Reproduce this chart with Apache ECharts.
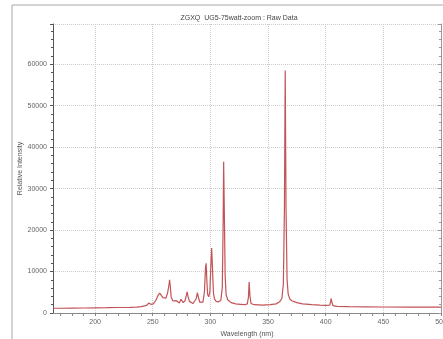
<!DOCTYPE html>
<html>
<head>
<meta charset="utf-8">
<script src="https://cdn.jsdelivr.net/npm/echarts@6/dist/echarts.min.js"></script>
<style>
  html, body { margin: 0; padding: 0; background: #fff; }
  #chart { width: 443px; height: 339px; }
</style>
</head>
<body>
<div id="chart"></div>
<script>
// spectrum (nm, counts)
const wavelengths = [
  163.5, 170, 180, 190, 200, 210, 220, 230, 236, 240, 243, 245, 246.5, 247.3, 248.3, 249.3,
  250.5, 252, 253, 254.5, 256, 257.5, 258.8, 260, 261.5, 263, 264.2, 264.6, 265.2, 266,
  267.5, 269, 270.3, 271.5, 273, 274.5, 275.5, 276.5, 278, 279.2, 279.8, 280.6, 281.8, 283,
  285, 286.5, 287.8, 288.7, 289.6, 290.8, 292, 293.5, 294.8, 295.8, 296.3, 296.9, 297.6,
  298.5, 299.5, 300.5, 301.1, 301.8, 302.6, 303.5, 305, 307, 309, 310.3, 311, 311.5, 312.1,
  312.8, 313.6, 315, 318, 322, 326, 330, 332, 333, 333.6, 334.3, 335.2, 338, 345, 352, 357,
  360, 362, 363.3, 364.2, 364.9, 365.6, 366.5, 367.5, 369, 371, 375, 380, 388, 395, 400,
  403.5, 404.3, 404.8, 405.4, 406.3, 410, 420, 435, 450, 470, 500
];
const intensity = [
  1150, 1150, 1180, 1200, 1250, 1280, 1330, 1380, 1420, 1550, 1700, 1900, 2400, 2600, 2100, 1900,
  2200, 2600, 3200, 4200, 4800, 4500, 3700, 3400, 3600, 5000, 7000, 8000, 6500, 3800,
  2900, 2700, 3000, 2600, 2400, 3300, 3000, 2500, 3000, 4300, 5100, 4000, 2800, 2400,
  2300, 2500, 3500, 4900, 3800, 2600, 2300, 2600, 5000, 11000, 12000, 8000, 4500,
  3900, 5000, 12000, 15700, 11000, 5000, 3400, 2800, 2700, 3000, 6000, 20000, 36500, 24000,
  9000, 4500, 3200, 2500, 2200, 2100, 2000, 2200, 3800, 7500, 4200, 2300, 2000, 1900, 2000, 2200,
  2700, 3500, 7000, 25000, 58500, 25000, 8000, 4500, 3300, 2900, 2500, 2200, 2000, 1900, 1850,
  1900, 2800, 3500, 2600, 1800, 1600, 1550, 1500, 1450, 1420, 1400
];

const xLabels = [200, 250, 300, 350, 400, 450, 500];
const xMinorTicks = [170, 180, 190, 200, 210, 220, 230, 240, 250, 260, 270, 280, 290, 300,
  310, 320, 330, 340, 350, 360, 370, 380, 390, 400, 410, 420, 430, 440, 450, 460, 470, 480, 490, 500];

const X_MIN = 163.5, X_MAX = 500;
const Y_MIN = 0, Y_MAX = 69700, Y_STEP = 10000;

const font = 'Liberation Sans, Arial, sans-serif';
const chart = echarts.init(document.getElementById('chart'));

const points = wavelengths.map((w, i) => [w, intensity[i]]);

const gridLine = { show: true, lineStyle: { color: '#cccccc', type: 'dotted', width: 1 } };

chart.setOption({
  animation: false,
  backgroundColor: '#fff',
  graphic: [{
    type: 'rect',
    shape: { x: 12, y: 5, width: 460, height: 360 },
    style: { fill: 'none', stroke: '#a8a8a8', lineWidth: 1 },
    silent: true
  }],
  title: {
    text: 'ZGXQ  UG5-75watt-zoom : Raw Data',
    left: 234,
    top: 10,
    textAlign: 'center',
    textStyle: { fontSize: 7, fontWeight: 'normal', color: '#444', fontFamily: font }
  },
  grid: { left: 53, top: 24, right: 2, bottom: 26, outerBoundsMode: 'none', containLabel: false },
  xAxis: [
    {
      type: 'value', min: X_MIN, max: X_MAX, position: 'bottom',
      name: 'Wavelength (nm)', nameLocation: 'middle', nameGap: 18, nameMoveOverlap: false,
      nameTextStyle: { fontSize: 7, color: '#555', fontFamily: font },
      axisLine: { show: true, lineStyle: { color: '#555' } },
      axisTick: { show: true, customValues: xMinorTicks, length: 3, lineStyle: { color: '#555' } },
      axisLabel: { customValues: xLabels, fontSize: 7, color: '#666', margin: 6, fontFamily: font },
      splitLine: { show: false }
    },
    {
      type: 'value', min: X_MIN, max: X_MAX, position: 'top',
      axisLine: { show: true, lineStyle: { color: '#888' } },
      axisTick: { show: true, inside: true, customValues: xMinorTicks, length: 3, lineStyle: { color: '#888' } },
      axisLabel: { show: false },
      splitLine: { show: false }
    },
    {
      type: 'value', min: X_MIN, max: X_MAX, position: 'bottom',
      axisLine: { show: false },
      axisTick: { show: false, customValues: xLabels },
      axisLabel: { show: false },
      splitLine: gridLine
    }
  ],
  yAxis: [
    {
      type: 'value', min: Y_MIN, max: Y_MAX, interval: Y_STEP, position: 'left',
      name: 'Relative Intensity', nameLocation: 'middle', nameGap: 29, nameRotate: 90,
      nameMoveOverlap: false,
      nameTextStyle: { fontSize: 7, color: '#555', fontFamily: font },
      axisLine: { show: true, lineStyle: { color: '#555' } },
      axisTick: { show: true, length: 3, lineStyle: { color: '#555' } },
      minorTick: { show: true, splitNumber: 5, length: 2, lineStyle: { color: '#555' } },
      axisLabel: {
        fontSize: 7, color: '#666', margin: 6, fontFamily: font, showMaxLabel: false,
        formatter: v => String(v)
      },
      splitLine: gridLine
    },
    {
      type: 'value', min: Y_MIN, max: Y_MAX, interval: Y_STEP, position: 'right',
      axisLine: { show: true, lineStyle: { color: '#999' } },
      axisTick: { show: true, inside: true, length: 3, lineStyle: { color: '#999' } },
      minorTick: { show: true, splitNumber: 5, length: 2, lineStyle: { color: '#999' } },
      axisLabel: { show: false },
      splitLine: { show: false }
    }
  ],
  series: [{
    type: 'line',
    xAxisIndex: 0,
    yAxisIndex: 0,
    data: points,
    showSymbol: false,
    lineStyle: { color: '#c25357', width: 1.2 }
  }]
});
</script>
</body>
</html>
